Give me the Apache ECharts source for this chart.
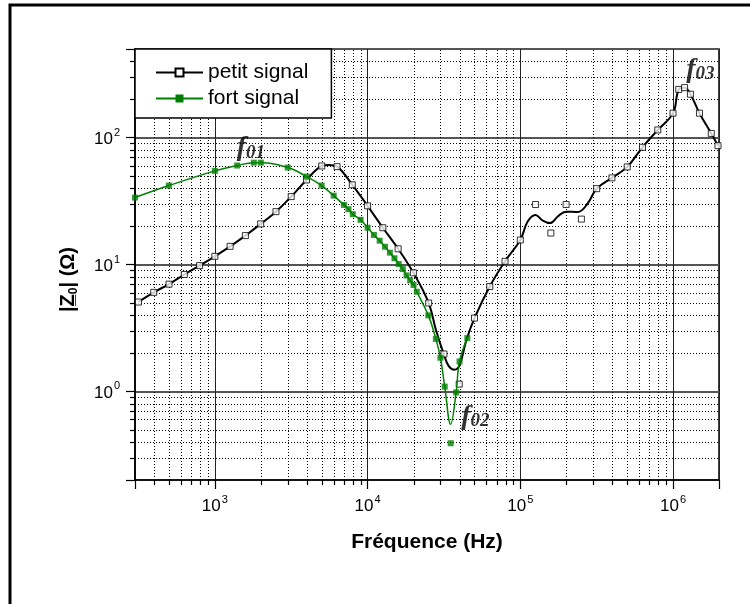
<!DOCTYPE html>
<html><head><meta charset="utf-8">
<script src="https://cdn.jsdelivr.net/npm/echarts@6/dist/echarts.min.js"></script>
<style>html,body{margin:0;padding:0;background:#fff;overflow:hidden}#c{width:750px;height:604px}</style>
</head><body><div id="c"></div>
<script>
// ---- data ----
const petitFreq = [316, 398, 501, 631, 794, 1000, 1259, 1585, 1995, 2512, 3162, 3981, 5012, 6310, 7943, 10000, 12589, 15849, 19953, 25119, 31623, 39811, 50119, 63096, 79433, 100000, 125893, 158489, 199526, 251189, 316228, 398107, 501187, 630957, 794328, 1000000, 1090000, 1190000, 1300000, 1490000, 1780000, 1970000];
const petitZ = [5.06, 6.03, 7.0, 8.34, 9.8, 11.6, 13.9, 16.9, 20.9, 26.1, 34.3, 46.4, 59.8, 59.1, 42.5, 29.0, 19.5, 13.3, 8.6, 4.97, 1.97, 1.14, 3.78, 6.71, 10.6, 15.6, 29.7, 17.7, 29.7, 22.8, 39.6, 48.2, 58.8, 84, 115, 156, 240, 248, 220, 156, 108, 86.5];
// smoothed fit curve drawn through the petit-signal points
const petitCurveFreq = [316, 398, 501, 631, 794, 1000, 1259, 1585, 1995, 2512, 3162, 3981, 5012, 5600, 6310, 7943, 10000, 12589, 15849, 19953, 25119, 28000, 31623, 34000, 37000, 40000, 44200, 50119, 63096, 79433, 100000, 111700, 125600, 140300, 156700, 175900, 199500, 237800, 276700, 316228, 398107, 501187, 630957, 794328, 1000000, 1090000, 1190000, 1300000, 1490000, 1780000, 1970000];
const petitCurveZ = [5.06, 6.03, 7.0, 8.34, 9.8, 11.6, 13.9, 16.9, 20.9, 26.1, 34.3, 46.4, 59.8, 61, 59.1, 42.5, 29.0, 19.5, 13.3, 8.6, 4.97, 3.06, 1.95, 1.58, 1.48, 1.6, 2.5, 3.78, 6.71, 10.6, 15.6, 21.8, 24.6, 22.2, 21.2, 23.9, 26.1, 25.9, 30.4, 39.6, 48.2, 58.8, 84, 115, 156, 240, 248, 220, 156, 108, 86.5];

const fortFreq = [300, 500, 1000, 1400, 1800, 2000, 3000, 4000, 5000, 6000, 7000, 7500, 8000, 9000, 10000, 11000, 12000, 13000, 14000, 15000, 16000, 17000, 18000, 19000, 20000, 21000, 25000, 28000, 30000, 32000, 35000, 38000, 40000, 45000];
const fortZ = [33.7, 41.9, 54.7, 60.3, 63.5, 63.5, 58.1, 49.3, 41.9, 34.9, 29.5, 27.3, 24.9, 22.5, 19.5, 17.1, 15.4, 13.8, 12.4, 11.2, 10.1, 9.2, 8.2, 7.5, 6.9, 6.1, 3.97, 2.59, 1.84, 1.09, 0.39, 0.98, 1.72, 2.63];
// smoothed fit curve for the fort-signal points
const fortCurveFreq = [300, 500, 1000, 1400, 1800, 2000, 3000, 4000, 5000, 6000, 7000, 7500, 8000, 9000, 10000, 11000, 12000, 13000, 14000, 15000, 16000, 17000, 18000, 19000, 20000, 21000, 25000, 28000, 30000, 32000, 35000, 38000, 40000, 45000];
const fortCurveZ = [33.7, 41.9, 54.7, 60.3, 63.5, 63.5, 58.1, 49.3, 41.9, 34.9, 29.5, 27.3, 24.9, 22.5, 19.5, 17.1, 15.4, 13.8, 12.4, 11.2, 10.1, 9.2, 8.2, 7.5, 6.9, 6.1, 3.97, 2.59, 1.84, 1.09, 0.55, 0.98, 1.72, 2.63];

const annotFreq = [1722, 50800, 1510000];
const annotZ = [82.5, 0.628, 341];
const annotText = ['01', '02', '03'];

const seriesNames = ['petit signal', 'fort signal'];
const xTitle = 'Fréquence (Hz)';

const X_MIN = 300, X_MAX = 2000000, Y_MIN = 0.2, Y_MAX = 500;
const mantissas = [2, 3, 4, 5, 6, 7, 8, 9];
const xDecades = [100, 1000, 10000, 100000, 1000000];
const yDecades = [0.1, 1, 10, 100];

// ---- build ----
const xMinor = [], yMinor = [];
xDecades.forEach(d => mantissas.forEach(m => { const v = +(m * d).toPrecision(6); if (v > X_MIN && v < X_MAX) xMinor.push(v); }));
yDecades.forEach(d => mantissas.forEach(m => { const v = +(m * d).toPrecision(6); if (v > Y_MIN && v < Y_MAX) yMinor.push(v); }));
const minorItems = xMinor.map(v => [v, Y_MIN, 0]).concat(yMinor.map(v => [X_MIN, v, 1]));

const zip = (a, b) => a.map((v, i) => [v, b[i]]);
const FONT = 'Liberation Sans, Arial, sans-serif';
const SERIF = 'Liberation Serif, Times New Roman, serif';

function pow10Label(v) {
  const e = Math.log10(v), r = Math.round(e);
  if (Math.abs(e - r) > 1e-6) return '';
  return '{b|10}{s|' + r + '}';
}
const richLbl = {
  b: { fontSize: 17, fontFamily: FONT, color: '#000', lineHeight: 21, verticalAlign: 'bottom' },
  s: { fontSize: 11, fontFamily: FONT, color: '#000', verticalAlign: 'top', padding: [0, 0, 0, 1] }
};

const chart = echarts.init(document.getElementById('c'), null, { renderer: 'canvas' });
chart.setOption({
  animation: false,
  backgroundColor: '#fff',
  graphic: [{
    type: 'rect', silent: true, z: 100,
    shape: { x: 10, y: 5, width: 900, height: 800 },
    style: { fill: null, stroke: '#000', lineWidth: 3 }
  }],
  grid: { left: 135, right: 31, top: 49, bottom: 124, show: true, borderColor: '#000', borderWidth: 1.5, backgroundColor: 'transparent' },
  legend: {
    data: seriesNames, left: 135, top: 49, orient: 'vertical',
    backgroundColor: '#fff', borderColor: '#000', borderWidth: 1.5, borderRadius: 0,
    padding: [13, 23, 9, 20], itemGap: 5, itemWidth: 47, itemHeight: 10,
    selectedMode: false,
    textStyle: { fontSize: 21, fontFamily: FONT, color: '#000' }
  },
  xAxis: {
    type: 'log', logBase: 10, min: X_MIN, max: X_MAX,
    axisLine: { show: true, lineStyle: { color: '#000', width: 1.5 } },
    axisTick: { show: true, length: 9, lineStyle: { color: '#000', width: 1.2 } },
    axisLabel: { formatter: pow10Label, rich: richLbl, margin: 14 },
    splitLine: { show: true, lineStyle: { color: '#222', width: 1 } },
    name: xTitle, nameLocation: 'middle', nameGap: 52,
    nameTextStyle: { fontFamily: FONT, fontSize: 21, fontWeight: 'bold', color: '#000' }
  },
  yAxis: {
    type: 'log', logBase: 10, min: Y_MIN, max: Y_MAX,
    axisLine: { show: true, lineStyle: { color: '#000', width: 1.5 } },
    axisTick: { show: true, length: 9, lineStyle: { color: '#000', width: 1.2 } },
    axisLabel: { formatter: pow10Label, rich: richLbl, margin: 15 },
    splitLine: { show: true, lineStyle: { color: '#555', width: 2 } },
    name: '|{z|Z\u0332}{sub|0}| (Ω)', nameLocation: 'middle', nameGap: 55,
    nameTextStyle: {
      fontFamily: FONT, fontSize: 20, fontWeight: 'bold', color: '#000', padding: [0, 30, 0, 0],
      rich: {
        z: { fontFamily: FONT, fontSize: 20, fontWeight: 'bold', color: '#000' },
        sub: { fontFamily: FONT, fontSize: 12, fontWeight: 'bold', color: '#000', verticalAlign: 'bottom', lineHeight: 24 }
      }
    }
  },
  series: [
    {
      type: 'custom', coordinateSystem: 'cartesian2d', silent: true, z: 1, clip: false,
      data: minorItems,
      renderItem: function (params, api) {
        const kind = api.value(2);
        if (kind === 0) {
          const v = api.value(0);
          const a = api.coord([v, Y_MIN]), b = api.coord([v, Y_MAX]);
          const x = Math.round(a[0]) + 0.5;
          return { type: 'group', children: [
            { type: 'line', shape: { x1: x, y1: a[1], x2: x, y2: b[1] }, style: { stroke: '#000', lineWidth: 1, lineDash: [1, 2] } },
            { type: 'line', shape: { x1: x, y1: a[1], x2: x, y2: a[1] + 5 }, style: { stroke: '#000', lineWidth: 1.2 } }
          ] };
        } else {
          const v = api.value(1);
          const a = api.coord([X_MIN, v]), b = api.coord([X_MAX, v]);
          const y = Math.round(a[1]) + 0.5;
          return { type: 'group', children: [
            { type: 'line', shape: { x1: a[0], y1: y, x2: b[0], y2: y }, style: { stroke: '#000', lineWidth: 1, lineDash: [1, 2] } },
            { type: 'line', shape: { x1: a[0] - 5, y1: y, x2: a[0], y2: y }, style: { stroke: '#000', lineWidth: 1.2 } }
          ] };
        }
      }
    },
    {
      name: seriesNames[0], type: 'line', data: zip(petitCurveFreq, petitCurveZ), smooth: 0.4,
      symbol: 'rect', symbolSize: 7, showSymbol: false, z: 3,
      lineStyle: { color: '#000', width: 2 },
      itemStyle: { color: '#fff', borderColor: '#000', borderWidth: 1 }
    },
    {
      name: seriesNames[0], type: 'scatter', data: zip(petitFreq, petitZ),
      symbol: 'rect', symbolSize: 6, z: 4,
      itemStyle: { color: '#fff', borderColor: '#000', borderWidth: 1 }
    },
    {
      name: seriesNames[1], type: 'line', data: zip(fortCurveFreq, fortCurveZ), smooth: 0.4,
      symbol: 'rect', symbolSize: 7, showSymbol: false, z: 5,
      lineStyle: { color: '#008000', width: 1.5 },
      itemStyle: { color: '#008000' }
    },
    {
      name: seriesNames[1], type: 'scatter', data: zip(fortFreq, fortZ),
      symbol: 'rect', symbolSize: 6, z: 6,
      itemStyle: { color: '#008000' }
    },
    {
      type: 'scatter', silent: true, z: 7,
      data: annotFreq.map((f, i) => ({ value: [f, annotZ[i]], name: annotText[i] })),
      symbolSize: 1, itemStyle: { color: 'rgba(0,0,0,0)' },
      label: {
        show: true, position: 'inside', color: '#000',
        formatter: p => '{f|f}{s|' + p.name + '}',
        rich: {
          f: { fontFamily: SERIF, fontStyle: 'italic', fontWeight: 'bold', fontSize: 28, color: '#000', verticalAlign: 'bottom', lineHeight: 28 },
          s: { fontFamily: SERIF, fontStyle: 'italic', fontWeight: 'bold', fontSize: 19, color: '#000', verticalAlign: 'bottom' }
        }
      }
    }
  ]
});
</script></body></html>
